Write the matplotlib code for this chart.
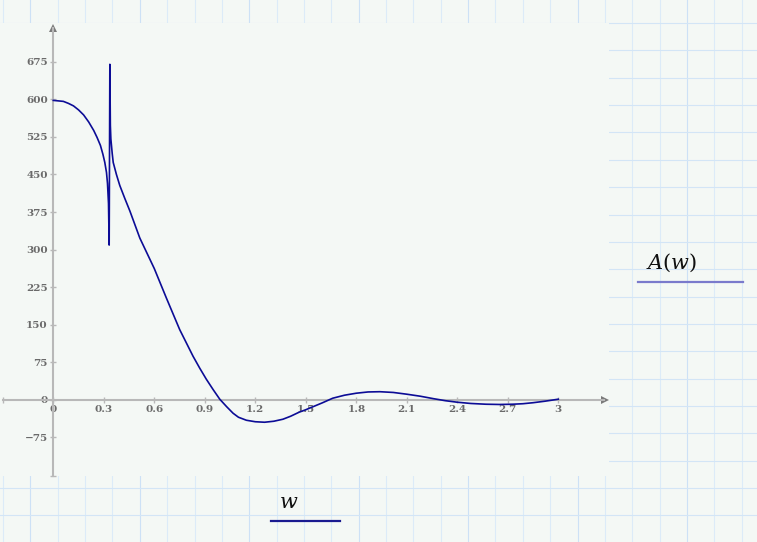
import numpy as np
import matplotlib.pyplot as plt

plt.rcParams['mathtext.fontset'] = 'dejavuserif'

# values
w = [0, 0.03, 0.06, 0.09, 0.12, 0.15, 0.18, 0.21, 0.24, 0.26, 0.28, 0.295,
     0.306, 0.316, 0.322, 0.328, 0.332, 0.336, 0.339, 0.342, 0.35, 0.356,
     0.375, 0.395, 0.425, 0.455, 0.514, 0.6, 0.672, 0.751, 0.83, 0.87,
     0.909, 0.95, 0.989, 1.03, 1.068, 1.1, 1.147, 1.2, 1.255, 1.31, 1.364,
     1.41, 1.46, 1.5, 1.55, 1.6, 1.66, 1.73, 1.8, 1.87, 1.94, 2.02, 2.1,
     2.18, 2.26, 2.33, 2.4, 2.48, 2.57, 2.65, 2.73, 2.79, 2.85, 2.92, 3.0]
A = [598, 597, 596, 592, 587, 579, 569, 555, 538, 524, 508, 490,
     474, 454, 432, 392, 309, 670, 548, 521, 492, 474,
     450, 428, 402, 377, 323, 262, 203, 140, 87, 63,
     41, 20, 1, -14, -27, -35, -41, -44, -45, -43, -39,
     -33, -25, -20, -13, -6, 3, 9, 13, 15.5, 16, 14.5, 11,
     7, 2, -2, -5, -7.5, -9, -9.5, -9, -8, -6, -3, 1]

xticks = [0, 0.3, 0.6, 0.9, 1.2, 1.5, 1.8, 2.1, 2.4, 2.7, 3]
xtick_labels = ['0', '0.3', '0.6', '0.9', '1.2', '1.5', '1.8', '2.1', '2.4', '2.7', '3']
yticks = [-75, 0, 75, 150, 225, 300, 375, 450, 525, 600, 675]
ytick_labels = ['\u221275', '0', '75', '150', '225', '300', '375', '450', '525', '600', '675']

page = '#f4f8f5'
fig = plt.figure(figsize=(7.57, 5.42), dpi=100, facecolor=page)

# worksheet grid behind the plot
bg = fig.add_axes([0, 0, 1, 1])
bg.set_xlim(0, 757)
bg.set_ylim(542, 0)
bg.axis('off')
step = 27.36
for k in range(28):
    x = 3 + k * step
    bg.axvline(x, color='#cde1f6' if k % 4 == 1 else '#dcebf8', lw=0.8)
for k in range(19):
    bg.axhline(23 + k * step, color='#d3e5f6', lw=0.8)

bg.text(672, 263, r'$A(w)$', fontsize=15, ha='center', va='center', color='#111111')
bg.plot([638, 743], [282, 282], color='#7a7acc', lw=1.6)
bg.text(289, 502, r'$w$', fontsize=15, ha='center', va='center', color='#111111')
bg.plot([271, 340], [521, 521], color='#1a1a90', lw=1.6)

# plot panel
ax = fig.add_axes([0, 66 / 542, 609 / 757, 453 / 542], facecolor=page)
ax.set_xlim(-0.3166, 3.3013)
ax.set_ylim(-152.4, 752.6)

axc = '#b8b8b8'
for s in ['top', 'right']:
    ax.spines[s].set_visible(False)
ax.spines['left'].set_position(('data', 0))
ax.spines['bottom'].set_position(('data', 0))
ax.spines['left'].set_bounds(-152.4, 742)
ax.spines['bottom'].set_bounds(-0.2988, 3.27)
for s in ['left', 'bottom']:
    ax.spines[s].set_color(axc)
    ax.spines[s].set_linewidth(1.5)

ax.set_xticks(xticks, labels=xtick_labels)
ax.set_yticks(yticks, labels=ytick_labels)
ax.tick_params(direction='inout', length=5, width=1, colors=axc,
               labelcolor='#6a6a6a', labelsize=7.5, pad=1.5)
for lab in ax.get_xticklabels() + ax.get_yticklabels():
    lab.set_fontfamily('DejaVu Serif')
    lab.set_fontweight('bold')

# end caps and arrow heads
ax.plot([-0.2988], [0], marker='|', ms=5, mew=1, color=axc, clip_on=False)
ax.plot([0], [-152.4], marker='_', ms=5, mew=1, color=axc, clip_on=False)
ax.plot([3.2775], [0], marker='>', ms=5.5, color='#7a7a7a', mew=0, clip_on=False)
ax.plot([0], [742.7], marker='^', ms=5.5, color='#7a7a7a', mew=0, clip_on=False)

ax.plot(w, A, color='#0c0c96', lw=1.2, clip_on=False, zorder=5)

fig.savefig('out.png', dpi=100, facecolor=page)
